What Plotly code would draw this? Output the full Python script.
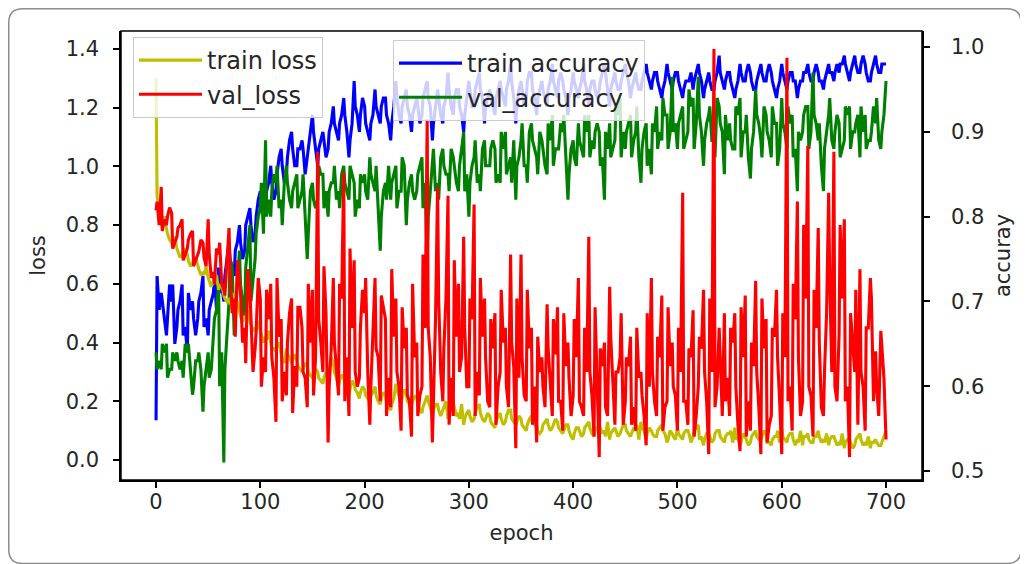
import plotly.graph_objects as go

# ---------------- data ----------------
# main samples at epochs 5k and 5k+3
epochs = sorted(list(range(0, 701, 5)) + list(range(3, 700, 5)))
# extra samples at epochs 5k+1
epochs_extra = list(range(1, 700, 5))

train_loss = [
    1.30, 0.84, 0.80, 0.83, 0.78, 0.75, 0.74, 0.76, 0.72, 0.69,
    0.70, 0.72, 0.70, 0.66, 0.67, 0.69, 0.66, 0.63, 0.64, 0.66,
    0.62, 0.59, 0.61, 0.63, 0.58, 0.60, 0.56, 0.54, 0.55, 0.57,
    0.52, 0.54, 0.50, 0.47, 0.49, 0.51, 0.47, 0.44, 0.45, 0.47,
    0.44, 0.40, 0.42, 0.44, 0.40, 0.38, 0.37, 0.40, 0.36, 0.33,
    0.38, 0.35, 0.33, 0.36, 0.34, 0.31, 0.30, 0.33, 0.32, 0.29,
    0.28, 0.31, 0.30, 0.27, 0.26, 0.30, 0.29, 0.35, 0.33, 0.28,
    0.25, 0.29, 0.28, 0.24, 0.22, 0.27, 0.26, 0.23, 0.21, 0.25,
    0.24, 0.21, 0.20, 0.23, 0.25, 0.20, 0.19, 0.23, 0.22, 0.18,
    0.17, 0.21, 0.26, 0.22, 0.20, 0.24, 0.23, 0.19, 0.18, 0.22,
    0.21, 0.17, 0.16, 0.20, 0.22, 0.18, 0.15, 0.19, 0.19, 0.15,
    0.17, 0.20, 0.14, 0.18, 0.20, 0.15, 0.16, 0.19, 0.12, 0.16,
    0.17, 0.13, 0.14, 0.18, 0.19, 0.14, 0.13, 0.16, 0.15, 0.12,
    0.11, 0.15, 0.16, 0.12, 0.13, 0.17, 0.17, 0.13, 0.12, 0.15,
    0.14, 0.11, 0.10, 0.14, 0.15, 0.12, 0.12, 0.09, 0.10, 0.13,
    0.14, 0.10, 0.11, 0.14, 0.13, 0.10, 0.09, 0.12, 0.12, 0.08,
    0.07, 0.11, 0.11, 0.08, 0.09, 0.12, 0.13, 0.09, 0.08, 0.11,
    0.12, 0.09, 0.10, 0.13, 0.07, 0.10, 0.11, 0.08, 0.09, 0.12,
    0.12, 0.09, 0.08, 0.11, 0.10, 0.07, 0.13, 0.10, 0.07, 0.11,
    0.10, 0.08, 0.08, 0.11, 0.12, 0.09, 0.06, 0.10, 0.09, 0.07,
    0.11, 0.08, 0.07, 0.10, 0.10, 0.06, 0.08, 0.11, 0.12, 0.08,
    0.05, 0.09, 0.09, 0.06, 0.07, 0.10, 0.10, 0.07, 0.06, 0.09,
    0.09, 0.06, 0.11, 0.08, 0.05, 0.09, 0.08, 0.05, 0.06, 0.09,
    0.10, 0.07, 0.07, 0.10, 0.09, 0.06, 0.05, 0.08, 0.08, 0.06,
    0.11, 0.07, 0.06, 0.09, 0.09, 0.05, 0.07, 0.10, 0.05, 0.08,
    0.09, 0.06, 0.06, 0.08, 0.10, 0.06, 0.07, 0.09, 0.05, 0.08,
    0.08, 0.05, 0.06, 0.09, 0.04, 0.07, 0.07, 0.04, 0.05, 0.08,
    0.09, 0.05, 0.06, 0.08, 0.04, 0.06, 0.07, 0.05, 0.05, 0.08,
    0.10,
]
train_loss_extra = [
    0.90, 0.79, 0.77, 0.73, 0.71, 0.71, 0.68, 0.68, 0.65, 0.63,
    0.61, 0.60, 0.59, 0.55, 0.53, 0.53, 0.49, 0.48, 0.46, 0.44,
    0.43, 0.41, 0.38, 0.39, 0.34, 0.36, 0.34, 0.32, 0.31, 0.30,
    0.29, 0.28, 0.28, 0.31, 0.30, 0.27, 0.26, 0.24, 0.24, 0.23,
    0.22, 0.22, 0.22, 0.21, 0.20, 0.19, 0.24, 0.21, 0.20, 0.20,
    0.19, 0.18, 0.20, 0.17, 0.17, 0.18, 0.16, 0.18, 0.14, 0.14,
    0.15, 0.16, 0.16, 0.14, 0.13, 0.13, 0.14, 0.15, 0.14, 0.13,
    0.12, 0.12, 0.13, 0.10, 0.12, 0.12, 0.12, 0.11, 0.10, 0.10,
    0.09, 0.10, 0.11, 0.11, 0.10, 0.11, 0.08, 0.09, 0.10, 0.10,
    0.10, 0.09, 0.12, 0.11, 0.09, 0.09, 0.10, 0.10, 0.07, 0.08,
    0.09, 0.09, 0.09, 0.10, 0.07, 0.07, 0.08, 0.09, 0.08, 0.08,
    0.10, 0.07, 0.06, 0.07, 0.08, 0.08, 0.08, 0.06, 0.07, 0.10,
    0.08, 0.08, 0.07, 0.06, 0.08, 0.07, 0.08, 0.08, 0.06, 0.07,
    0.07, 0.05, 0.06, 0.06, 0.07, 0.07, 0.05, 0.06, 0.06, 0.06,
]

val_loss = [
    0.85, 0.80, 0.93, 0.82, 0.80, 0.86, 0.84, 0.74, 0.76, 0.80,
    0.82, 0.70, 0.72, 0.77, 0.78, 0.68, 0.70, 0.75, 0.74, 0.66,
    0.82, 0.62, 0.64, 0.72, 0.70, 0.60, 0.58, 0.66, 0.79, 0.50,
    0.55, 0.68, 0.62, 0.40, 0.45, 0.65, 0.58, 0.30, 0.38, 0.62,
    0.55, 0.35, 0.30, 0.48, 0.60, 0.28, 0.13, 0.42, 0.48, 0.30,
    0.22, 0.50, 0.55, 0.32, 0.25, 0.52, 0.45, 0.28, 0.18, 0.40,
    0.58, 0.35, 1.05, 0.40, 0.30, 0.50, 0.06, 0.38, 0.62, 0.30,
    0.22, 0.55, 0.98, 0.35, 0.15, 0.45, 0.68, 0.25, 0.28, 0.58,
    0.50, 0.30, 0.12, 0.45, 0.62, 0.35, 0.20, 0.52, 0.48, 0.28,
    0.18, 0.42, 0.55, 0.25, 0.10, 0.38, 0.45, 0.20, 0.08, 0.35,
    0.40, 0.22, 0.25, 0.45, 1.16, 0.35, 0.06, 0.48, 0.93, 0.30,
    0.20, 0.55, 0.90, 0.28, 0.15, 0.42, 0.60, 0.35, 0.76, 0.25,
    0.25, 0.48, 0.87, 0.30, 0.22, 0.42, 0.55, 0.20, 0.18, 0.38,
    0.50, 0.25, 0.30, 0.40, 0.45, 0.18, 0.70, 0.32, 0.04, 0.28,
    0.70, 0.22, 0.20, 0.38, 0.45, 0.25, 0.06, 0.30, 0.35, 0.18,
    0.53, 0.28, 0.15, 0.36, 0.52, 0.20, 0.10, 0.32, 0.40, 0.15,
    0.22, 0.35, 0.62, 0.18, 0.15, 0.30, 0.76, 0.22, 0.08, 0.28,
    0.01, 0.32, 0.40, 0.15, 0.59, 0.25, 0.12, 0.30, 0.35, 0.12,
    0.20, 0.32, 0.42, 0.18, 0.10, 0.28, 0.30, 0.15, 0.05, 0.25,
    0.62, 0.20, 0.15, 0.35, 0.56, 0.18, 0.20, 0.32, 0.40, 0.22,
    0.10, 0.30, 0.91, 0.20, 0.12, 0.35, 0.51, 0.15, 0.25, 0.38,
    0.58, 0.20, 0.02, 0.30, 1.40, 0.25, 0.45, 0.15, 0.50, 0.28,
    0.15, 0.40, 0.50, 0.12, 0.03, 0.35, 0.56, 0.20, 0.10, 0.32,
    0.61, 0.18, 0.02, 0.38, 0.48, 0.12, 0.15, 0.42, 0.58, 0.20,
    0.02, 0.35, 1.37, 0.25, 0.10, 0.48, 0.88, 0.15, 0.20, 0.55,
    1.07, 0.22, 0.08, 0.45, 0.79, 0.18, 0.15, 0.50, 0.91, 0.30,
    1.05, 0.20, 0.43, 0.55, 0.82, 0.25, 0.01, 0.40, 0.30, 0.12,
    0.65, 0.25, 0.10, 0.45, 0.62, 0.20, 0.37, 0.15, 0.44, 0.28,
    0.07,
]
val_loss_extra = [
    0.88, 0.78, 0.83, 0.72, 0.79, 0.68, 0.75, 0.66, 0.71, 0.69,
    0.70, 0.60, 0.74, 0.56, 0.64, 0.42, 0.57, 0.33, 0.50, 0.44,
    0.25, 0.58, 0.35, 0.62, 0.20, 0.40, 0.16, 0.52, 0.30, 0.60,
    0.22, 0.48, 0.66, 0.25, 0.40, 0.60, 0.20, 0.72, 0.30, 0.45,
    0.62, 0.25, 0.38, 0.56, 0.15, 0.65, 0.30, 0.52, 0.22, 0.60,
    0.15, 0.70, 0.45, 0.20, 0.55, 0.38, 0.12, 0.68, 0.30, 0.45,
    0.55, 0.15, 0.62, 0.35, 0.48, 0.12, 0.58, 0.25, 0.40, 0.55,
    0.35, 0.58, 0.12, 0.42, 0.25, 0.38, 0.48, 0.20, 0.50, 0.28,
    0.48, 0.20, 0.45, 0.30, 0.52, 0.38, 0.18, 0.42, 0.30, 0.50,
    0.35, 0.12, 0.45, 0.22, 0.50, 0.30, 0.42, 0.10, 0.52, 0.25,
    0.45, 0.20, 0.38, 0.08, 0.42, 0.30, 0.55, 0.18, 0.35, 0.20,
    0.45, 0.25, 0.52, 0.08, 0.40, 0.30, 0.55, 0.06, 0.45, 0.35,
    0.50, 0.20, 0.60, 0.35, 0.80, 0.25, 0.58, 0.40, 0.30, 0.62,
    0.25, 0.80, 0.20, 0.50, 0.58, 0.30, 0.45, 0.55, 0.25, 0.38,
]

train_acc = [
    0.56, 0.69, 0.71, 0.68, 0.66, 0.72, 0.70, 0.65, 0.67, 0.70,
    0.72, 0.67, 0.64, 0.69, 0.70, 0.66, 0.68, 0.71, 0.73, 0.68,
    0.66, 0.70, 0.71, 0.69, 0.74, 0.72, 0.70, 0.75, 0.77, 0.74,
    0.73, 0.77, 0.79, 0.75, 0.76, 0.80, 0.81, 0.77, 0.78, 0.82,
    0.83, 0.80, 0.81, 0.84, 0.86, 0.82, 0.83, 0.87, 0.88, 0.84,
    0.85, 0.89, 0.90, 0.86, 0.86, 0.88, 0.89, 0.85, 0.87, 0.90,
    0.92, 0.88, 0.86, 0.89, 0.90, 0.87, 0.88, 0.91, 0.93, 0.90,
    0.89, 0.92, 0.94, 0.90, 0.87, 0.91, 0.96, 0.92, 0.90, 0.94,
    0.93, 0.90, 0.89, 0.92, 0.95, 0.92, 0.91, 0.94, 0.94, 0.91,
    0.89, 0.93, 0.96, 0.92, 0.91, 0.94, 0.95, 0.92, 0.90, 0.93,
    0.94, 0.91, 0.92, 0.95, 0.96, 0.93, 0.89, 0.93, 0.95, 0.92,
    0.91, 0.94, 0.97, 0.93, 0.92, 0.95, 0.95, 0.92, 0.90, 0.94,
    0.96, 0.93, 0.93, 0.96, 0.97, 0.94, 0.91, 0.94, 0.95, 0.93,
    0.92, 0.95, 0.96, 0.94, 0.93, 0.96, 0.98, 0.94, 0.91, 0.95,
    0.96, 0.93, 0.94, 0.97, 0.97, 0.94, 0.92, 0.95, 0.96, 0.94,
    0.93, 0.96, 0.98, 0.95, 0.94, 0.97, 0.96, 0.94, 0.92, 0.95,
    0.97, 0.95, 0.94, 0.96, 0.98, 0.95, 0.93, 0.96, 0.96, 0.94,
    0.95, 0.97, 0.98, 0.95, 0.93, 0.96, 0.97, 0.95, 0.95, 0.97,
    0.98, 0.96, 0.94, 0.96, 0.97, 0.95, 0.95, 0.97, 0.98, 0.96,
    0.95, 0.97, 0.97, 0.95, 0.94, 0.96, 0.98, 0.96, 0.95, 0.97,
    0.97, 0.95, 0.94, 0.96, 0.96, 0.97, 0.95, 0.97, 0.98, 0.96,
    0.94, 0.96, 0.97, 0.95, 0.95, 0.97, 0.99, 0.96, 0.95, 0.97,
    0.97, 0.95, 0.94, 0.96, 0.98, 0.96, 0.96, 0.98, 0.97, 0.95,
    0.95, 0.97, 0.98, 0.96, 0.96, 0.98, 0.97, 0.95, 0.94, 0.96,
    0.98, 0.96, 0.95, 0.97, 0.97, 0.96, 0.94, 0.96, 0.96, 0.97,
    0.98, 0.96, 0.96, 0.98, 0.97, 0.96, 0.95, 0.97, 0.98, 0.97,
    0.96, 0.98, 0.97, 0.98, 0.99, 0.97, 0.96, 0.98, 0.99, 0.97,
    0.97, 0.99, 0.98, 0.96, 0.96, 0.98, 0.99, 0.97, 0.97, 0.98,
    0.98,
]
train_acc_extra = [
    0.73, 0.70, 0.68, 0.72, 0.69, 0.66, 0.71, 0.68, 0.70, 0.67,
    0.69, 0.73, 0.71, 0.73, 0.75, 0.76, 0.77, 0.79, 0.79, 0.80,
    0.82, 0.83, 0.84, 0.85, 0.86, 0.87, 0.88, 0.88, 0.88, 0.88,
    0.90, 0.88, 0.89, 0.90, 0.91, 0.91, 0.92, 0.89, 0.93, 0.92,
    0.91, 0.91, 0.93, 0.93, 0.92, 0.91, 0.94, 0.93, 0.93, 0.92,
    0.93, 0.94, 0.94, 0.91, 0.94, 0.93, 0.95, 0.94, 0.93, 0.92,
    0.95, 0.95, 0.95, 0.93, 0.94, 0.94, 0.95, 0.95, 0.96, 0.93,
    0.95, 0.96, 0.95, 0.94, 0.95, 0.95, 0.96, 0.96, 0.95, 0.94,
    0.96, 0.95, 0.96, 0.95, 0.95, 0.96, 0.97, 0.95, 0.96, 0.96,
    0.97, 0.95, 0.96, 0.96, 0.97, 0.96, 0.96, 0.95, 0.97, 0.96,
    0.96, 0.95, 0.96, 0.96, 0.97, 0.95, 0.96, 0.96, 0.97, 0.96,
    0.96, 0.95, 0.97, 0.97, 0.96, 0.96, 0.97, 0.97, 0.96, 0.95,
    0.97, 0.96, 0.96, 0.95, 0.97, 0.97, 0.97, 0.96, 0.96, 0.97,
    0.97, 0.98, 0.98, 0.97, 0.98, 0.98, 0.97, 0.97, 0.98, 0.98,
]

val_acc = [
    0.64, 0.63, 0.62, 0.64, 0.65, 0.62, 0.62, 0.63, 0.64, 0.62,
    0.63, 0.65, 0.64, 0.62, 0.59, 0.63, 0.63, 0.62, 0.57, 0.62,
    0.64, 0.62, 0.66, 0.69, 0.72, 0.64, 0.51, 0.66, 0.70, 0.74,
    0.66, 0.71, 0.76, 0.70, 0.68, 0.77, 0.79, 0.73, 0.75, 0.80,
    0.81, 0.78, 0.89, 0.82, 0.80, 0.85, 0.84, 0.81, 0.82, 0.84,
    0.86, 0.82, 0.81, 0.84, 0.85, 0.82, 0.83, 0.80, 0.75, 0.83,
    0.84, 0.81, 0.82, 0.85, 0.85, 0.83, 0.80, 0.84, 0.84, 0.82,
    0.83, 0.85, 0.86, 0.83, 0.82, 0.85, 0.84, 0.82, 0.81, 0.84,
    0.85, 0.82, 0.87, 0.84, 0.83, 0.80, 0.76, 0.83, 0.84, 0.86,
    0.82, 0.85, 0.86, 0.83, 0.83, 0.86, 0.79, 0.84, 0.85, 0.82,
    0.83, 0.86, 0.87, 0.84, 0.745, 0.83, 0.86, 0.83, 0.84, 0.87,
    0.88, 0.85, 0.85, 0.88, 0.87, 0.84, 0.83, 0.88, 0.90, 0.85,
    0.80, 0.86, 0.87, 0.84, 0.85, 0.88, 0.89, 0.86, 0.86, 0.89,
    0.88, 0.85, 0.84, 0.88, 0.90, 0.86, 0.87, 0.89, 0.82, 0.87,
    0.89, 0.86, 0.86, 0.90, 0.91, 0.88, 0.87, 0.90, 0.89, 0.86,
    0.85, 0.89, 0.92, 0.88, 0.88, 0.91, 0.90, 0.87, 0.82, 0.88,
    0.89, 0.86, 0.91, 0.88, 0.87, 0.90, 0.92, 0.89, 0.88, 0.91,
    0.90, 0.87, 0.82, 0.88, 0.91, 0.88, 0.89, 0.92, 0.94, 0.90,
    0.88, 0.91, 0.92, 0.89, 0.90, 0.87, 0.84, 0.90, 0.91, 0.88,
    0.85, 0.90, 0.93, 0.90, 0.89, 0.92, 0.92, 0.90, 0.965, 0.91,
    0.88, 0.92, 0.93, 0.89, 0.90, 0.93, 0.94, 0.91, 0.965, 0.90,
    0.86, 0.91, 0.92, 0.89, 0.89, 0.94, 0.93, 0.90, 0.85, 0.89,
    0.91, 0.88, 0.88, 0.92, 0.94, 0.90, 0.90, 0.87, 0.845, 0.90,
    0.95, 0.91, 0.89, 0.93, 0.92, 0.89, 0.87, 0.91, 0.91, 0.88,
    0.94, 0.90, 0.88, 0.91, 0.92, 0.88, 0.83, 0.89, 0.90, 0.93,
    0.93, 0.90, 0.97, 0.91, 0.89, 0.86, 0.83, 0.90, 0.92, 0.89,
    0.88, 0.92, 0.91, 0.88, 0.89, 0.92, 0.93, 0.90, 0.90, 0.92,
    0.87, 0.90, 0.92, 0.89, 0.89, 0.93, 0.91, 0.89, 0.88, 0.92,
    0.96,
]
val_acc_extra = [
    0.62, 0.65, 0.61, 0.64, 0.63, 0.61, 0.65, 0.60, 0.64, 0.60,
    0.61, 0.68, 0.60, 0.62, 0.75, 0.68, 0.72, 0.74, 0.70, 0.78,
    0.84, 0.80, 0.83, 0.86, 0.79, 0.84, 0.83, 0.81, 0.85, 0.78,
    0.82, 0.86, 0.81, 0.83, 0.86, 0.81, 0.84, 0.86, 0.80, 0.85,
    0.83, 0.85, 0.86, 0.80, 0.82, 0.84, 0.81, 0.87, 0.82, 0.83,
    0.85, 0.81, 0.80, 0.88, 0.82, 0.86, 0.83, 0.86, 0.86, 0.83,
    0.84, 0.89, 0.83, 0.86, 0.88, 0.84, 0.90, 0.85, 0.84, 0.86,
    0.91, 0.84, 0.89, 0.85, 0.88, 0.91, 0.86, 0.88, 0.92, 0.85,
    0.87, 0.89, 0.92, 0.87, 0.90, 0.86, 0.90, 0.87, 0.93, 0.87,
    0.90, 0.87, 0.93, 0.88, 0.86, 0.91, 0.88, 0.94, 0.88, 0.90,
    0.91, 0.88, 0.95, 0.88, 0.92, 0.89, 0.93, 0.87, 0.91, 0.92,
    0.89, 0.93, 0.87, 0.92, 0.88, 0.92, 0.87, 0.90, 0.93, 0.86,
    0.91, 0.93, 0.87, 0.90, 0.92, 0.88, 0.92, 0.91, 0.88, 0.94,
    0.90, 0.87, 0.93, 0.88, 0.91, 0.93, 0.88, 0.90, 0.94, 0.90,
]

x_ticks = [0, 100, 200, 300, 400, 500, 600, 700]
loss_ticks = [0.0, 0.2, 0.4, 0.6, 0.8, 1.0, 1.2, 1.4]
acc_ticks = [0.5, 0.6, 0.7, 0.8, 0.9, 1.0]


def combine(xa, ya, xb, yb):
    pts = sorted(zip(list(xa) + list(xb), list(ya) + list(yb)))
    return [p[0] for p in pts], [p[1] for p in pts]


# ---------------- layout geometry (pixels, page body has an 8px margin) ----------------
W, H = 1028, 564
OFF = 8
PL, PR, PT, PB = 121 - OFF, 922 - OFF, 31 - OFF, 480 - OFF  # plot box


def px(xp):
    return (xp - OFF - PL) / (PR - PL)


def py(yp):
    return (PB - (yp - OFF)) / (PB - PT)


FONT = "DejaVu Sans"
TXT = "#262626"
LW = 3.1

series = [
    ("train accuracy", train_acc, train_acc_extra, "#0000ff", "y", "legend2"),
    ("val_accuracy", val_acc, val_acc_extra, "#008000", "y", "legend2"),
    ("train loss", train_loss, train_loss_extra, "#bfbf00", "y2", "legend"),
    ("val_loss", val_loss, val_loss_extra, "#ff0000", "y2", "legend"),
]

fig = go.Figure()
for name, ys, ys_extra, color, yax, leg in series:
    xs_all, ys_all = combine(epochs, ys, epochs_extra, ys_extra)
    fig.add_trace(go.Scatter(x=xs_all, y=ys_all, name=name, mode="lines",
                             line=dict(color=color, width=LW), yaxis=yax, legend=leg))

axis_common = dict(showline=True, linecolor="black", linewidth=1.5, ticks="outside",
                   ticklen=6, tickwidth=1.5, tickcolor="black", showgrid=False, zeroline=False,
                   tickfont=dict(family=FONT, size=21, color=TXT))

fig.update_layout(
    width=W, height=H, autosize=False,
    margin=dict(l=PL, r=W - PR, t=PT, b=H - PB, pad=0),
    paper_bgcolor="white", plot_bgcolor="white",
    font=dict(family=FONT, color=TXT),
    xaxis=dict(range=[-33.6, 734.5], tickvals=x_ticks, ticklabelstandoff=-4,
               title=dict(text="epoch", font=dict(family=FONT, size=21, color=TXT), standoff=12),
               **axis_common),
    yaxis=dict(side="right", range=[0.4894, 1.019], tickvals=acc_ticks, tickformat=".1f",
               title=dict(text="accuray", font=dict(family=FONT, size=21, color=TXT), standoff=12),
               ticklabelstandoff=17, **axis_common),
    yaxis2=dict(side="left", overlaying="y", range=[-0.068, 1.461], tickvals=loss_ticks,
                tickformat=".1f",
                title=dict(text="loss", font=dict(family=FONT, size=21, color=TXT), standoff=14),
                ticklabelstandoff=10, **axis_common),
    legend=dict(x=px(133), y=py(37), xanchor="left", yanchor="top",
                bgcolor="rgba(255,255,255,0.8)", bordercolor="#cccccc", borderwidth=1,
                font=dict(family=FONT, size=24, color=TXT), itemwidth=63),
    legend2=dict(x=px(393), y=py(40), xanchor="left", yanchor="top",
                 bgcolor="rgba(255,255,255,0.8)", bordercolor="#cccccc", borderwidth=1,
                 font=dict(family=FONT, size=24, color=TXT), itemwidth=63),
)

# axes box
fig.add_shape(type="rect", xref="paper", yref="paper", x0=0, y0=0, x1=1, y1=1,
              line=dict(color="black", width=1.5), layer="above")

# outer rounded frame (page pixels)
x0, y0, x1, y1, r = 8.75, 8.75, 1021, 563.5, 14
path = (
    f"M {px(x0 + r)} {py(y0)} L {px(x1 - r)} {py(y0)} Q {px(x1)} {py(y0)} {px(x1)} {py(y0 + r)} "
    f"L {px(x1)} {py(y1 - r)} Q {px(x1)} {py(y1)} {px(x1 - r)} {py(y1)} "
    f"L {px(x0 + r)} {py(y1)} Q {px(x0)} {py(y1)} {px(x0)} {py(y1 - r)} "
    f"L {px(x0)} {py(y0 + r)} Q {px(x0)} {py(y0)} {px(x0 + r)} {py(y0)} Z"
)
fig.add_shape(type="path", path=path, xref="paper", yref="paper",
              line=dict(color="#8c8c8c", width=1.5), layer="below")

fig.write_html("out.html")
